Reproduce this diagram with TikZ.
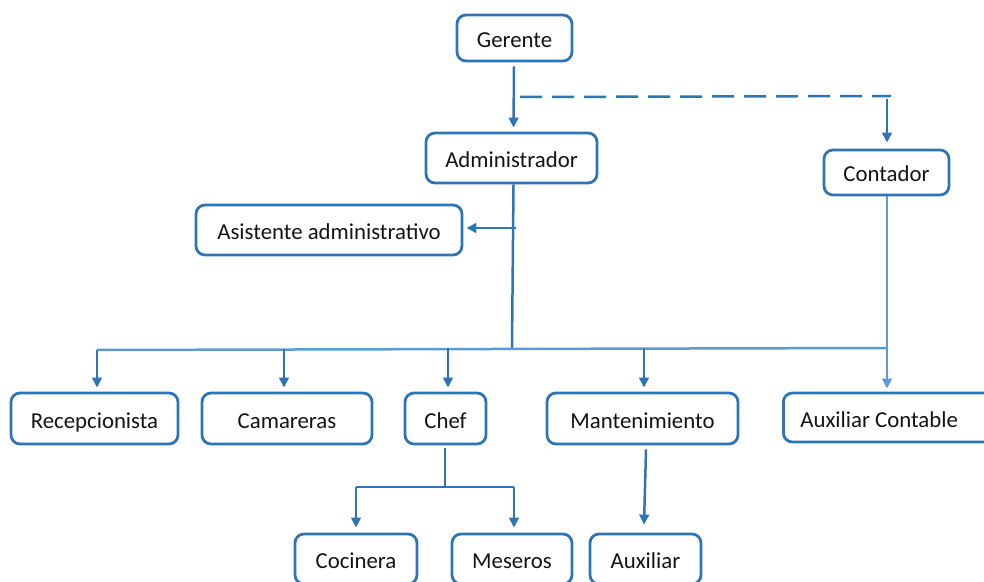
\documentclass[tikz,border=0pt]{standalone}
\usepackage{fontspec}
\setmainfont{Carlito}
\usetikzlibrary{arrows.meta,calc}
\definecolor{boxblue}{HTML}{2E75B6}
\definecolor{darkline}{HTML}{2E75B6}
\definecolor{lightline}{HTML}{5B9BD5}
\begin{document}
\begin{tikzpicture}[x=0.5pt,y=-0.5pt,
  box/.style={draw=boxblue, line width=1.4pt, rounded corners=4.5pt, fill=white,
    inner sep=0pt, text height=9.5pt, text depth=0pt,
    font=\fontsize{11.4}{13}\selectfont, text=black!92},
  dconn/.style={draw=darkline, line width=1.25pt},
  lconn/.style={draw=lightline, line width=1.25pt},
  arr/.style={-{Triangle[width=4.8pt,length=5pt]}},
  dashline/.style={draw=darkline, line width=1.25pt, dash pattern=on 11pt off 5pt}]
\useasboundingbox (0,0) rectangle (984,582);
\clip (0,0) rectangle (984,582);
% nodes
\node[box, minimum width=57.5pt, minimum height=23pt] (ger) at (514.5,38) {Gerente};
\node[box, minimum width=85.5pt, minimum height=25pt] (adm) at (511.5,158) {Administrador};
\node[box, minimum width=62.5pt, minimum height=22.5pt] (con) at (886.5,172.5) {Contador};
\node[box, minimum width=133pt, minimum height=25pt] (asi) at (329,230) {Asistente administrativo};
\node[box, minimum width=83.5pt, minimum height=25.5pt] (rec) at (94.5,418.5) {Recepcionista};
\node[box, minimum width=85pt, minimum height=25.5pt] (cam) at (287,418.5) {Camareras};
\node[box, minimum width=40.5pt, minimum height=25.5pt] (che) at (445.5,418.5) {Chef};
\node[box, minimum width=95.5pt, minimum height=25.5pt] (man) at (642.5,418.5) {Mantenimiento};
\node[box, minimum width=109pt, minimum height=24.5pt, anchor=west] (auc) at (782,417.5) {\makebox[92pt][l]{Auxiliar Contable}};
\node[box, minimum width=61pt, minimum height=25pt] (coc) at (356,559) {Cocinera};
\node[box, minimum width=60pt, minimum height=25pt] (mes) at (512,559) {Meseros};
\node[box, minimum width=55.5pt, minimum height=25pt] (aux) at (645.5,559) {Auxiliar};
% coordinates
\coordinate (d1) at (520,97);
\coordinate (d2) at (891,96);
\coordinate (d3) at (887,99);
\coordinate (bA) at (512,348);
\coordinate (bL) at (97,350);
\coordinate (bR) at (887,348);
\coordinate (a1) at (516,228);
\coordinate (cL) at (356,487);
\coordinate (cR) at (514,487);
% connectors
\draw[dconn,arr] ($(ger.south)+(-0.5,4)$) -- ($(adm.north)+(2,-4)$);
\draw[dashline] (d1) -- (d2);
\draw[dconn,arr] (d3) -- ($(con.north)+(0.5,-6)$);
\draw[dconn] ($(adm.south)+(2,0)$) -- (bA);
\draw[dconn,arr] (a1) -- ($(asi.east)+(3,-2)$);
\draw[lconn] (bL) -- (bR);
\draw[lconn] ($(con.south)+(0.5,0)$) -- (bR);
\draw[lconn,arr] (bR) -- ($(bR |- auc.north)+(0,-3)$);
\draw[dconn,arr] (bL) -- ($(rec.north)+(2.5,-4)$);
\draw[dconn,arr] ($(cam.north)+(-3,-43)$) -- ($(cam.north)+(-3,-4)$);
\draw[dconn,arr] ($(che.north)+(2.5,-43.5)$) -- ($(che.north)+(2.5,-4)$);
\draw[dconn,arr] ($(man.north)+(1.5,-44)$) -- ($(man.north)+(1.5,-4)$);
\draw[dconn] ($(che.south)+(-0.5,3)$) -- ($(che.south)+(-0.5,43)$);
\draw[dconn] (cL) -- (cR);
\draw[dconn,arr] (cL) -- ($(coc.north)+(0,-5)$);
\draw[dconn,arr] (cR) -- ($(mes.north)+(2,-5)$);
\draw[dconn,arr] ($(man.south)+(3.5,4)$) -- ($(aux.north)+(-1.5,-8)$);
\end{tikzpicture}
\end{document}
